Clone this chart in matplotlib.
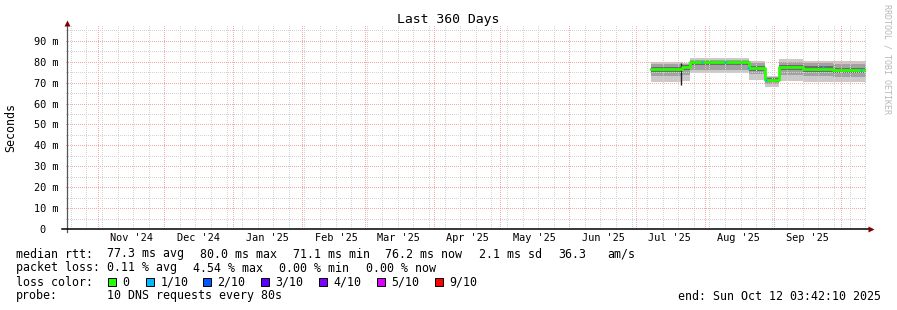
import datetime as dt
import numpy as np
import matplotlib
matplotlib.use('Agg')
import matplotlib.pyplot as plt
import matplotlib.dates as mdates
from matplotlib.patches import Rectangle
from matplotlib.lines import Line2D
import matplotlib.transforms as mtransforms

plt.rcParams['font.family'] = ['DejaVu Sans Mono']

# --- data, values in ms ---
t_start = dt.datetime(2024, 10, 17, 3, 42, 10)
t_end = dt.datetime(2025, 10, 12, 3, 42, 10)

seg_start = [
    dt.datetime(2025, 7, 7, 12), dt.datetime(2025, 7, 21, 6), dt.datetime(2025, 7, 25, 0),
    dt.datetime(2025, 8, 20, 12), dt.datetime(2025, 8, 27, 18), dt.datetime(2025, 9, 3, 6),
    dt.datetime(2025, 9, 13, 18), dt.datetime(2025, 9, 27, 6),
]
data_end = dt.datetime(2025, 10, 12, 3, 40)

median = [76.5, 77.5, 79.8, 77.2, 71.3, 77.7, 76.7, 76.1]
smoke_max = [79.8, 79.5, 81.6, 80.5, 73.4, 81.2, 80.4, 80.2]
smoke_hi = [78.8, 78.8, 81.0, 79.3, 72.8, 80.0, 79.3, 79.0]
core_hi = [77.6, 78.3, 80.5, 78.2, 72.2, 78.7, 77.8, 77.2]
core_lo = [75.3, 76.0, 78.3, 75.8, 70.2, 76.2, 75.3, 74.8]
smoke_lo = [73.2, 73.5, 76.0, 74.0, 69.3, 73.5, 73.2, 72.8]
smoke_min = [70.3, 71.0, 74.4, 71.5, 67.9, 70.6, 70.5, 70.1]

spike_date = [dt.datetime(2025, 7, 21, 2)]
spike_lo = [68.8]
spike_hi = [79.2]

loss_dates = [dt.datetime(2025, 7, 30, 12), dt.datetime(2025, 8, 10), dt.datetime(2025, 8, 20, 6),
              dt.datetime(2025, 8, 28), dt.datetime(2025, 9, 23), dt.datetime(2025, 10, 10)]
loss_vals = [79.9, 79.9, 77.2, 71.5, 77.5, 76.2]

yticks = [0, 10, 20, 30, 40, 50, 60, 70, 80, 90]
ytick_labels = ['0  '] + ['%d m' % v for v in yticks[1:]]
ygrid_minor = [5, 15, 25, 35, 45, 55, 65, 75, 85, 95]

loss_names = ['0', '1/10', '2/10', '3/10', '4/10', '5/10', '9/10']
loss_colors = ['#26ff00', '#00b8ff', '#0059ff', '#5e00ff', '#7e00ff', '#dd00ff', '#ff0000']

W, H = 897, 310
AW, AH = 801, 204
fig = plt.figure(figsize=(W / 100, H / 100), dpi=100)
fig.patch.set_facecolor('white')
# pixel aligned plot area: x 65..866, y 25..229 (from top)
ax = fig.add_axes([65 / W, 81 / H, AW / W, AH / H])
ax.set_xlim(t_start, t_end)
ax.set_ylim(0, 97.6)

# smoke bands
x = seg_start + [data_end]
def ext(v):
    return v + [v[-1]]
ax.fill_between(x, ext(smoke_min), ext(smoke_max), step='post', color='#cacaca', lw=0, zorder=3)
ax.fill_between(x, ext(smoke_lo), ext(smoke_hi), step='post', color='#a2a2a2', lw=0, zorder=3)
ax.fill_between(x, ext(core_lo), ext(core_hi), step='post', color='#6c6c6c', lw=0, zorder=3)
ax.vlines(spike_date, spike_lo, spike_hi, color='#222222', lw=1.0, zorder=4)
ax.step(x, ext(median), where='post', color='#26ff00', lw=2.0, zorder=5)
ax.plot(loss_dates, loss_vals, 's', ms=2, color='#00b8ff', mec='none', zorder=6)

# dotted pixel grid (rrdtool style), positions from the axis scales
weeks = mdates.WeekdayLocator(byweekday=mdates.SU).tick_values(t_start, t_end)
months_loc = mdates.MonthLocator().tick_values(t_start, t_end)
x0n, x1n = mdates.date2num(t_start), mdates.date2num(t_end)
grid = np.zeros((AH, AW, 4))
gray = (0.83, 0.83, 0.83, 1.0)
red = (0.97, 0.66, 0.66, 1.0)
def vline(v, c):
    col = int((v - x0n) / (x1n - x0n) * AW)
    if 0 <= col < AW:
        grid[1::2, col] = c
def hline(v, c):
    row = int(round(AH - v / 97.6 * AH))
    if 0 <= row < AH:
        grid[row, 1::2] = c
for v in weeks:
    vline(v, gray)
for v in ygrid_minor:
    hline(v, gray)
for v in months_loc:
    vline(v, red)
for v in yticks[1:]:
    hline(v, red)
ax.imshow(grid, extent=(x0n, x1n, 0, 97.6), aspect='auto', interpolation='nearest', zorder=4)
ax.set_xlim(t_start, t_end)
ax.set_ylim(0, 97.6)

ax.set_yticks(yticks)
ax.set_yticklabels(ytick_labels)
ax.set_xticks([])
ax.tick_params(which='both', length=0)
ax.tick_params(axis='y', pad=5, labelsize=7.35)
for s in ax.spines.values():
    s.set_visible(False)

# month labels at mid-month
trans = mtransforms.blended_transform_factory(ax.transData, ax.transAxes)
months = ["Nov '24", "Dec '24", "Jan '25", "Feb '25", "Mar '25", "Apr '25",
          "May '25", "Jun '25", "Jul '25", "Aug '25", "Sep '25"]
for i, m in enumerate(months):
    yr = 2024 + (10 + i) // 12
    mo = (10 + i) % 12 + 1
    ax.text(dt.datetime(yr, mo, 16), -0.022, m, transform=trans, ha='center', va='top',
            fontsize=7.35)

# axis lines and arrows
def fx(px):
    return px / W
def fy(py):
    return 1 - py / H
fig.add_artist(Line2D([fx(67), fx(67)], [fy(231.5), fy(25.5)], color='#555555', lw=0.9))
fig.add_artist(Line2D([fx(62), fx(869)], [fy(228.5), fy(228.5)], color='#000000', lw=1.1))
fig.add_artist(Line2D([fx(67.2)], [fy(23)], marker='^', ms=5, color='#7f0000', mec='none'))
fig.add_artist(Line2D([fx(871)], [fy(228.5)], marker='>', ms=5, color='#7f0000', mec='none'))

# titles
fig.text(fx(448.5), fy(19), 'Last 360 Days', ha='center', va='center', fontsize=9.45)
fig.text(fx(11), fy(127), 'Seconds', ha='center', va='center', rotation=90, fontsize=8.4)
fig.text(fx(887), fy(4), 'RRDTOOL / TOBI OETIKER', ha='center', va='top', rotation=270,
         fontsize=6, color='#b8b8b8')

# legend
fs = 8.4
row1 = [(16, 'median rtt:'), (107.3, '77.3 ms avg'), (200, '80.0 ms max'), (292.7, '71.1 ms min'),
        (385, '76.2 ms now'), (479.3, '2.1 ms sd'), (558.3, '36.3'), (607.3, 'am/s')]
row2 = [(16, 'packet loss:'), (107.3, '0.11 % avg'), (193.3, '4.54 % max'),
        (279.3, '0.00 % min'), (365.7, '0.00 % now')]
for px, s in row1:
    fig.text(fx(px), fy(254), s, va='center', fontsize=fs)
for px, s in row2:
    fig.text(fx(px), fy(268), s, va='center', fontsize=fs)
fig.text(fx(16), fy(282), 'loss color:', va='center', fontsize=fs)
sq_x = [108, 146, 203, 261, 319, 377, 435]
for sx, name, c in zip(sq_x, loss_names, loss_colors):
    fig.add_artist(Rectangle((fx(sx), fy(286)), 8 / W, 8 / H, transform=fig.transFigure,
                             fc=c, ec='black', lw=0.7))
    fig.text(fx(sx + 14.5), fy(282), name, va='center', fontsize=fs)
fig.text(fx(16), fy(296), 'probe:', va='center', fontsize=fs)
fig.text(fx(107.3), fy(296), '10 DNS requests every 80s', va='center', fontsize=fs)
fig.text(fx(678.3), fy(296), 'end: Sun Oct 12 03:42:10 2025', va='center', fontsize=fs)

fig.savefig('out.png', dpi=100, facecolor='white')
